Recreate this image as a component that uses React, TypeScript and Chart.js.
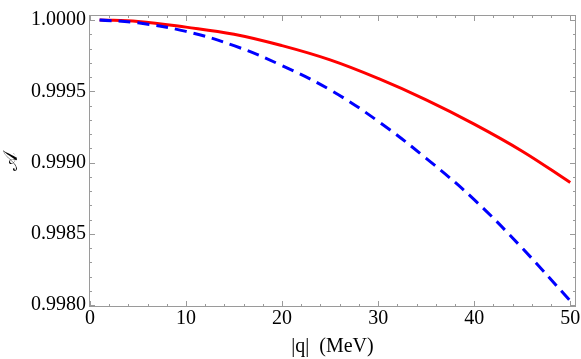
import React, { useEffect, useRef } from "react";
import { Chart, registerables } from "chart.js";

Chart.register(...registerables);

const qValues = [1, 5, 10, 15, 20, 25, 30, 35, 40, 45, 50];
const redValues = [1.0, 0.99999, 0.99995, 0.9999, 0.99982, 0.99972, 0.99959, 0.99944, 0.99927, 0.99908, 0.99886];
const blueValues = [1.0, 0.99998, 0.99992, 0.99982, 0.99968, 0.99951, 0.99929, 0.99903, 0.99874, 0.9984, 0.99803];
const xTickValues = [0, 10, 20, 30, 40, 50];
const yTickValues = [0.998, 0.9985, 0.999, 0.9995, 1.0];

const FONT = "'Liberation Serif', 'Times New Roman', serif";

const framePlugin = {
  id: "frameTicks",
  afterDraw(chart: any) {
    const { ctx, chartArea, scales } = chart;
    const { left, right, top, bottom } = chartArea;
    const xs = scales.x;
    const ys = scales.y;
    ctx.save();
    ctx.strokeStyle = "#9a9a9a";
    ctx.lineWidth = 1;
    ctx.strokeRect(left + 0.5, top + 0.5, right - left - 1, bottom - top - 1);
    ctx.beginPath();
    for (let i = 0; i <= 25; i++) {
      const v = i * 2;
      const px = Math.round(xs.getPixelForValue(v)) + 0.5;
      if (px < left || px > right) continue;
      const len = v % 10 === 0 ? 6 : 3;
      ctx.moveTo(px, bottom);
      ctx.lineTo(px, bottom - len);
      ctx.moveTo(px, top);
      ctx.lineTo(px, top + len);
    }
    for (let i = 0; i <= 20; i++) {
      const v = 0.998 + i * 0.0001;
      const py = Math.round(ys.getPixelForValue(v)) + 0.5;
      if (py < top || py > bottom) continue;
      const len = i % 5 === 0 ? 6 : 3;
      ctx.moveTo(left, py);
      ctx.lineTo(left + len, py);
      ctx.moveTo(right, py);
      ctx.lineTo(right - len, py);
    }
    ctx.stroke();
    ctx.restore();
  },
};

export default function App() {
  const ref = useRef<HTMLCanvasElement | null>(null);
  useEffect(() => {
    document.body.style.margin = "0";
    const canvas = ref.current;
    if (!canvas) return;
    const chart = new Chart(canvas, {
      type: "line",
      data: {
        datasets: [
          {
            label: "dashed",
            data: qValues.map((q, i) => ({ x: q, y: blueValues[i] })),
            borderColor: "#0000ff",
            borderWidth: 3,
            borderDash: [12, 7],
            pointRadius: 0,
            fill: false,
            tension: 0.4,
          },
          {
            label: "solid",
            data: qValues.map((q, i) => ({ x: q, y: redValues[i] })),
            borderColor: "#ff0000",
            borderWidth: 3,
            pointRadius: 0,
            fill: false,
            tension: 0.4,
          },
        ],
      },
      options: {
        responsive: false,
        animation: false,
        layout: { padding: { top: 4, right: 5, left: 0, bottom: 0 } },
        plugins: { legend: { display: false }, tooltip: { enabled: false } },
        scales: {
          x: {
            type: "linear",
            min: -0.1,
            max: 50.6,
            afterBuildTicks: (s: any) => {
              s.ticks = xTickValues.map((v) => ({ value: v }));
            },
            afterFit: (s: any) => {
              s.height = 52;
            },
            grid: { display: false, drawTicks: false },
            border: { display: false },
            ticks: {
              color: "#000",
              font: { family: FONT, size: 20 },
              padding: 0,
              maxRotation: 0,
              autoSkip: false,
              callback: (v: any) => String(v),
            },
            title: {
              display: true,
              text: "|q|  (MeV)",
              color: "#000",
              font: { family: FONT, size: 20 },
              padding: { top: 4, bottom: 0 },
            },
          },
          y: {
            type: "linear",
            min: 0.997987,
            max: 1.000035,
            afterBuildTicks: (s: any) => {
              s.ticks = yTickValues.map((v) => ({ value: v }));
            },
            afterFit: (s: any) => {
              s.width = 89;
            },
            grid: { display: false, drawTicks: false },
            border: { display: false },
            ticks: {
              color: "#000",
              font: { family: FONT, size: 20 },
              padding: 3,
              autoSkip: false,
              callback: (v: any) => Number(v).toFixed(4),
            },
            title: {
              display: true,
              text: "𝒜",
              color: "#000",
              font: { family: FONT, size: 20 },
              padding: { top: 0, bottom: 2 },
            },
          },
        },
      },
      plugins: [framePlugin],
    } as any);
    return () => chart.destroy();
  }, []);
  return (
    <canvas
      ref={ref}
      width={581}
      height={359}
      style={{ display: "block", width: 581, height: 359 }}
    />
  );
}
